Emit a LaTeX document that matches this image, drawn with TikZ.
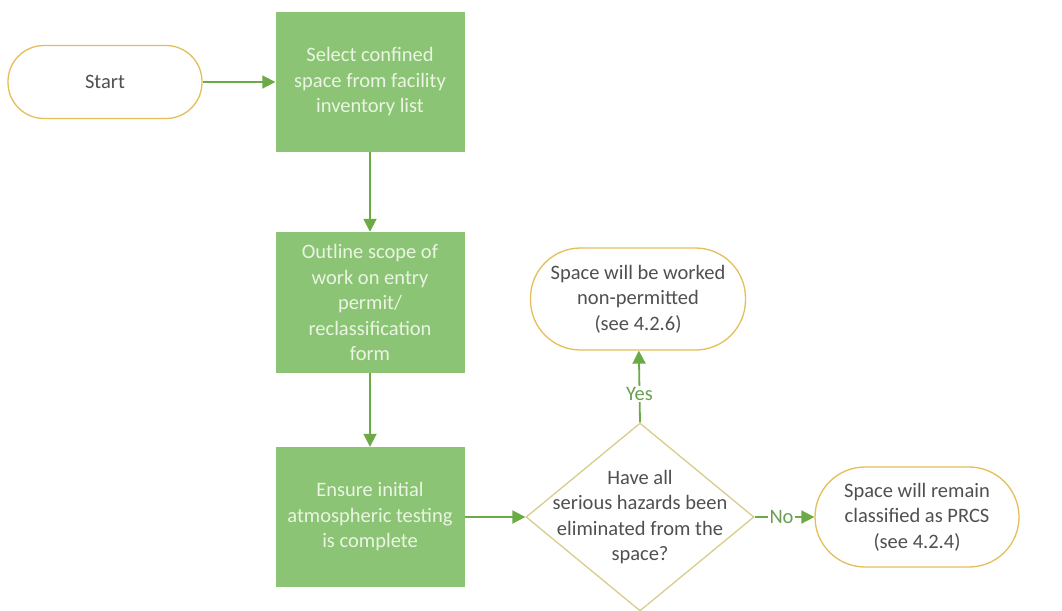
\documentclass[tikz,border=0pt]{standalone}
\usepackage{fontspec}
\setmainfont{Carlito}
\usetikzlibrary{shapes.geometric,arrows.meta}

\definecolor{boxgreen}{HTML}{8CC476}
\definecolor{boxtext}{HTML}{EAF5E2}
\definecolor{flowgreen}{HTML}{6AAB45}
\definecolor{ovalgold}{HTML}{E4BE58}
\definecolor{diagold}{HTML}{D8CD8C}
\definecolor{ovaltext}{HTML}{505050}
\definecolor{lbltext}{HTML}{6A9F52}

\tikzset{
  stepbox/.style={rectangle, fill=boxgreen, draw=none, minimum width=189pt,
    inner sep=0pt, align=center, text=boxtext,
    font=\fontsize{20.5}{25.5}\selectfont},
  terminal/.style={rectangle, rounded corners=#1, draw=ovalgold, line width=1.3pt,
    fill=white, inner sep=0pt, align=center, text=ovaltext,
    font=\fontsize{20.5}{25.5}\selectfont},
  decision/.style={diamond, draw=diagold, line width=1.3pt, inner sep=0pt,
    minimum width=228pt, minimum height=188pt},
  dectext/.style={align=center, text=ovaltext, inner sep=0pt,
    font=\fontsize{20.5}{25.5}\selectfont},
  flow/.style={draw=flowgreen, line width=1.8pt,
    -{Triangle[length=13pt,width=13pt]}},
  lbl/.style={fill=white, text=lbltext, inner sep=1.5pt,
    font=\fontsize{20.5}{22}\selectfont}
}

\begin{document}
\begin{tikzpicture}[x=1pt,y=-1pt]
  \useasboundingbox (0,0) rectangle (1062,610);
  \fill[white] (0,0) rectangle (1062,610);

  % left column: start and the three process steps
  \node[terminal=36pt, minimum width=194pt, minimum height=73pt] (start) at (105,82) {Start};
  \node[stepbox, minimum height=140pt] (select) at (370,82)
    {Select confined\\space from facility\\inventory list};
  \node[stepbox, minimum height=141pt] (outline) at (370,302.5)
    {Outline scope of\\work on entry\\permit/\\reclassification\\form};
  \node[stepbox, minimum height=140pt] (ensure) at (370,517)
    {Ensure initial\\atmospheric testing\\is complete};

  % decision and its two outcomes
  \node[decision] (hazards) at (640,517) {};
  \node[dectext] (hazq) at (640,517)
    {Have all\\serious hazards been\\eliminated from the\\space?};
  \node[terminal=50pt, minimum width=215pt, minimum height=102pt] (nonperm) at (638,299)
    {Space will be worked\\non-permitted\\(see 4.2.6)};
  \node[terminal=50pt, minimum width=204pt, minimum height=100pt] (prcs) at (917,517)
    {Space will remain\\classified as PRCS\\(see 4.2.4)};

  % connectors
  \draw[flow] (start) -- (select);
  \draw[flow] (select) -- (outline);
  \draw[flow] (outline) -- (ensure);
  \draw[flow] (ensure) -- (hazards);
  \draw[flow] (hazards.north) -- node[lbl, pos=0.4] {Yes} (nonperm);
  \draw[flow] (hazards.east) -- node[lbl, pos=0.45] {No} (prcs);
\end{tikzpicture}
\end{document}
